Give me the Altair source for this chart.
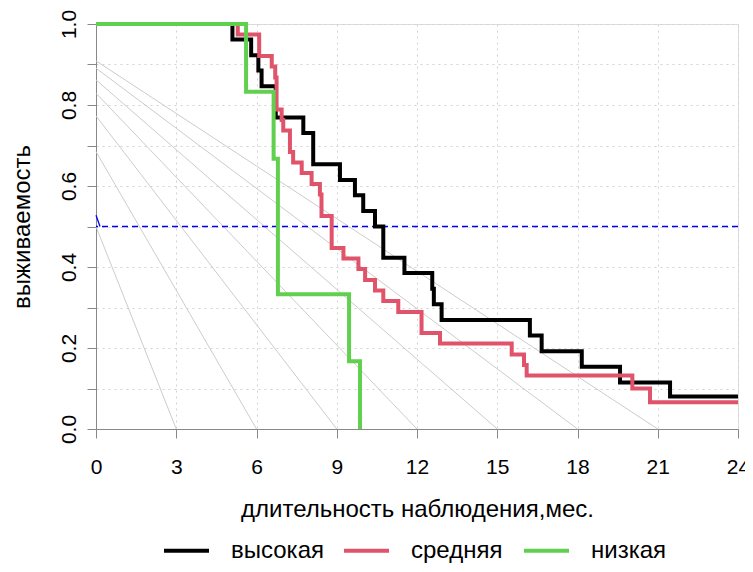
import altair as alt
import pandas as pd

# ---- data ----
groups = ["высокая", "средняя", "низкая"]
colors = ["#000000", "#DF536B", "#61D04F"]

black_t = [0, 5.1, 5.8, 6.07, 6.19, 6.72, 7.75, 8.12, 9.12, 9.68, 9.99, 10.43, 10.74,
           11.53, 12.57, 12.63, 12.92, 16.22, 16.66, 18.16, 19.59, 21.46, 24]
black_s = [1.0, 0.962, 0.923, 0.885, 0.846, 0.769, 0.731, 0.654, 0.615, 0.577, 0.538, 0.5,
           0.423, 0.385, 0.346, 0.308, 0.269, 0.231, 0.192, 0.154, 0.115, 0.08, 0.08]

red_t = [0, 5.3, 6.1, 6.57, 6.7, 6.75, 6.94, 7.0, 7.25, 7.37, 7.69, 8.06, 8.37, 8.43, 8.81,
         9.25, 9.81, 10.06, 10.43, 10.74, 11.3, 12.17, 12.86, 15.54, 16.0, 16.1, 20.05, 20.71, 24]
red_s = [1.0, 0.974, 0.921, 0.895, 0.868, 0.789, 0.763, 0.737, 0.684, 0.658, 0.632, 0.605,
         0.579, 0.526, 0.447, 0.421, 0.395, 0.368, 0.342, 0.316, 0.289, 0.237, 0.211, 0.184,
         0.158, 0.132, 0.1, 0.066, 0.066]

green_t = [0, 5.61, 6.64, 6.8, 9.46, 9.87]
green_s = [1.0, 0.833, 0.667, 0.333, 0.167, 0.0]

# reference lines: from (0, start) to (end, 0)
ref_start = [0.5, 0.685, 0.773, 0.829, 0.862, 0.891, 0.909]
ref_end = [3, 6, 9, 12, 15, 18, 21]

median_level = 0.5
spike_t = [0, 0.15]
spike_s = [0.528, 0.5]

x_ticks = [0, 3, 6, 9, 12, 15, 18, 21, 24]
y_ticks = [0.0, 0.1, 0.2, 0.3, 0.4, 0.5, 0.6, 0.7, 0.8, 0.9, 1.0]

# ---- tables ----
rows = []
for g, ts, ss in zip(groups, [black_t, red_t, green_t], [black_s, red_s, green_s]):
    for i, (t, s) in enumerate(zip(ts, ss)):
        rows.append({"t": t, "s": s, "group": g, "i": i})
curves = pd.DataFrame(rows)

ref_rows = []
for k, (a, b) in enumerate(zip(ref_start, ref_end)):
    ref_rows.append({"t": 0, "s": a, "id": k})
    ref_rows.append({"t": b, "s": 0, "id": k})
refs = pd.DataFrame(ref_rows)

spike = pd.DataFrame({"t": spike_t, "s": spike_s})

FONT = "Liberation Sans"

xscale = alt.Scale(domain=[0, 24], nice=False, zero=False)
yscale = alt.Scale(domain=[0, 1], nice=False, zero=False)

xenc = alt.X("t:Q", scale=xscale,
             axis=alt.Axis(values=x_ticks, title="длительность наблюдения,мес.",
                           grid=True, gridColor="#D3D3D3", gridDash=[2, 4],
                           tickSize=9, labelPadding=18, titlePadding=20,
                           labelFontSize=21, titleFontSize=24, titleFontWeight="normal",
                           labelFlush=False))
yenc = alt.Y("s:Q", scale=yscale,
             axis=alt.Axis(values=y_ticks, title="выживаемость",
                           grid=True, gridColor="#D3D3D3", gridDash=[2, 4],
                           tickSize=9, labelPadding=8, titlePadding=24,
                           labelAngle=270, labelAlign="center", labelBaseline="bottom",
                           labelExpr="round(datum.value*10) % 2 == 0 ? format(datum.value, '.1f') : ''",
                           labelFontSize=21, titleFontSize=24, titleFontWeight="normal",
                           labelFlush=False))

ref_layer = alt.Chart(refs).mark_line(color="#CCCCCC", strokeWidth=1).encode(
    x=xenc, y=yenc, detail="id:N")

median_layer = alt.Chart(pd.DataFrame({"v": [median_level]})).mark_rule(
    color="#0000EE", strokeDash=[6, 4], strokeWidth=1.3).encode(y=alt.Y("v:Q", scale=yscale))

spike_layer = alt.Chart(spike).mark_line(color="#0000EE", strokeWidth=1.3).encode(
    x=alt.X("t:Q", scale=xscale), y=alt.Y("s:Q", scale=yscale))

color = alt.Color("group:N",
                  scale=alt.Scale(domain=groups, range=colors),
                  legend=alt.Legend(title=None, orient="none", direction="horizontal",
                                    legendX=66, legendY=502, symbolType="stroke",
                                    symbolSize=2025, symbolStrokeWidth=4,
                                    labelFontSize=24, labelOffset=20, columnPadding=12,
                                    gridAlign="all",
                                    labelFont=FONT, padding=0))

curve_layers = []
for g in groups:
    curve_layers.append(
        alt.Chart(curves).transform_filter(alt.datum.group == g).mark_line(
            interpolate="step-after", strokeWidth=4, strokeCap="butt").encode(
            x=alt.X("t:Q", scale=xscale), y=alt.Y("s:Q", scale=yscale),
            color=color, order="i:Q")
    )

chart = alt.layer(ref_layer, median_layer, spike_layer, *curve_layers).properties(
    width=642, height=405,
    autosize=alt.AutoSizeParams(type="none"),
    padding={"left": 88, "top": 16, "right": 7, "bottom": 135},
).configure_view(stroke="#222222", strokeWidth=1).configure_axis(
    domainColor="#000000", tickColor="#000000", labelColor="#000000", titleColor="#000000",
    labelFont=FONT, titleFont=FONT, domainWidth=1, tickWidth=1
).configure(background="white")

chart.save("out.html", embed_options={"renderer": "svg", "actions": False})
